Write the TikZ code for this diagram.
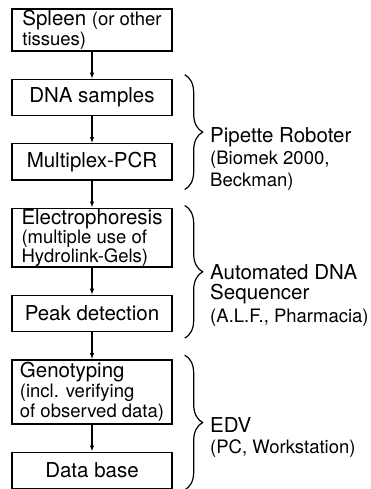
\documentclass[tikz,border=0pt]{standalone}
\usepackage{fontspec}
\setmainfont{TeX Gyre Heros}
\usetikzlibrary{positioning, decorations.pathreplacing, arrows.meta}
\newcommand{\sm}[1]{{\fontsize{18.5}{16.5}\selectfont #1}}
\tikzset{%
  stepbox/.style={draw, line width=1.4pt, minimum width=160pt, inner xsep=2pt, inner ysep=1pt, align=left}, % the boxes of the work flow
  grp/.style={decorate, decoration={brace, amplitude=18pt}, line width=1.2pt}, % braces on the right
  grplabel/.style={anchor=north west, align=left, inner sep=0pt}
}
\begin{document}
\begin{tikzpicture}[node distance=27pt, >={Latex[length=6pt, width=4.5pt]}, font=\fontsize{20.5}{16.5}\selectfont]
\useasboundingbox (0,0) rectangle (371pt,-489pt);

\node[stepbox, minimum height=42pt] (b0) at (92pt,-30pt) {Spleen \sm{(or other}\\[1pt]\sm{tissues)}};
\node[stepbox, minimum height=36pt, below=of b0] (b1) {DNA samples};
\node[stepbox, minimum height=36pt, below=of b1] (b2) {Multiplex-PCR};
\node[stepbox, minimum height=57pt, below=of b2] (b3) {Electrophoresis\\\sm{(multiple use of}\\\sm{Hydrolink-Gels)}};
\node[stepbox, minimum height=36pt, below=of b3] (b4) {Peak detection};
\node[stepbox, minimum height=64pt, below=of b4] (b5) {Genotyping\\[1pt]\sm{(incl. verifying}\\[1pt]\sm{of observed data)}};
\node[stepbox, minimum height=36pt, below=of b5] (b6) {Data base};

\foreach \i [count=\j] in {0,...,5}
  \draw[->, line width=1.2pt] (b\i) -- (b\j);

\draw[grp] ([xshift=12pt, yshift=4pt]b1.north east) -- ([xshift=12pt, yshift=-9pt]b2.south east);
\draw[grp] ([xshift=12pt, yshift=2pt]b3.north east) -- ([xshift=12pt, yshift=-6pt]b4.south east);
\draw[grp] ([xshift=12pt, yshift=4pt]b5.north east) -- ([xshift=12pt, yshift=-1pt]b6.south east);

\node[grplabel] (l0) at (210pt,-127pt) {Pipette Roboter\\[3.5pt]\sm{(Biomek 2000,}\\[3.5pt]\sm{Beckman)}};
\node[grplabel] (l1) at (210pt,-264pt) {Automated DNA\\[4pt]Sequencer\\[4pt]\sm{(A.L.F., Pharmacia)}};
\node[grplabel] (l2) at (210pt,-417pt) {EDV\\[5pt]\sm{(PC, Workstation)}};

\end{tikzpicture}
\end{document}
